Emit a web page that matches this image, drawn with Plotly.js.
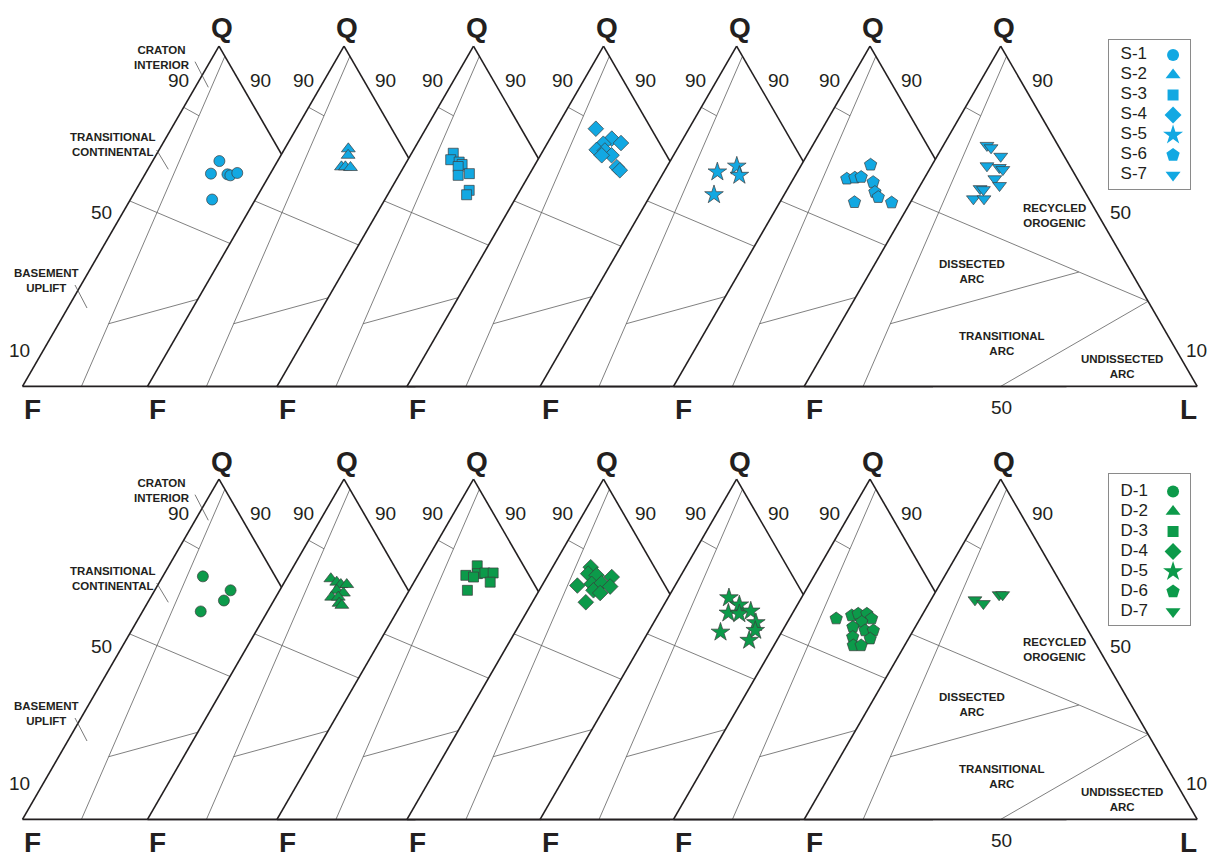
<!DOCTYPE html>
<html><head><meta charset="utf-8">
<script src="https://cdn.plot.ly/plotly-3.0.1.min.js"></script>
<style>html,body{margin:0;padding:0;background:#fff}</style>
</head><body><div id="chart" style="width:1214px;height:861px"></div>
<script>
// ---------------- DATA (Q, F, L in %) ----------------
const seriesTop = ['S-1','S-2','S-3','S-4','S-5','S-6','S-7'];
const seriesBottom = ['D-1','D-2','D-3','D-4','D-5','D-6','D-7'];
const symbols = ['circle','triangle-up','square','diamond','star','pentagon','triangle-down'];

const S1_Q = [66.2, 62.5, 62.3, 62.0, 62.7, 54.9];
const S1_F = [16.8, 20.8, 16.7, 16.1, 14.0, 24.3];
const S1_L = [17.0, 16.7, 21.0, 21.9, 23.3, 20.8];

const S2_Q = [69.8, 67.9, 64.5, 64.5, 64.3];
const S2_F = [14.0, 15.0, 18.4, 17.4, 16.2];
const S2_L = [16.2, 17.1, 17.1, 18.1, 19.5];

const S3_Q = [68.5, 66.6, 65.9, 65.2, 64.6, 62.5, 62.0, 57.6, 56.3];
const S3_F = [20.9, 22.5, 20.7, 20.3, 21.6, 19.8, 22.9, 22.3, 23.6];
const S3_L = [10.6, 10.9, 13.4, 14.5, 13.8, 17.7, 15.1, 20.1, 20.1];

const S4_Q = [75.7, 72.8, 71.5, 71.3, 69.5, 69.3, 67.9, 67.9, 64.4, 63.5];
const S4_F = [14.1, 11.5, 9.8, 14.4, 17.0, 15.0, 14.0, 16.5, 14.4, 14.1];
const S4_L = [10.2, 15.7, 18.7, 14.3, 13.5, 15.7, 18.1, 15.6, 21.2, 22.4];

const S5_Q = [64.7, 63.0, 62.0, 56.3];
const S5_F = [17.6, 23.4, 18.3, 27.6];
const S5_L = [17.7, 13.6, 19.7, 16.1];

const S6_Q = [65.1, 61.0, 61.3, 61.5, 60.0, 57.1, 55.6, 54.1, 54.0];
const S6_F = [17.3, 25.4, 23.2, 21.5, 19.2, 20.2, 20.1, 26.9, 17.5];
const S6_L = [17.6, 13.6, 15.5, 17.0, 20.8, 22.7, 24.3, 19.0, 28.5];

const S7_Q = [70.8, 70.1, 67.6, 64.8, 64.3, 63.7, 61.0, 59.0, 58.1, 57.8, 55.1, 55.1];
const S7_F = [18.1, 17.4, 16.2, 21.1, 18.2, 17.6, 21.0, 20.8, 26.2, 25.5, 29.4, 26.7];
const S7_L = [11.1, 12.5, 16.2, 14.1, 17.5, 18.7, 18.0, 20.2, 15.7, 16.7, 15.5, 18.2];

const D1_Q = [71.4, 67.3, 64.3, 61.1];
const D1_F = [18.4, 13.4, 16.6, 24.1];
const D1_L = [10.2, 19.3, 19.1, 14.8];

const D2_Q = [70.7, 69.7, 69.0, 69.0, 67.3, 66.5, 65.3, 65.3, 63.5, 62.9];
const D2_F = [18.0, 17.0, 16.3, 14.8, 18.2, 16.9, 20.5, 18.8, 19.5, 19.1];
const D2_L = [11.3, 13.3, 14.7, 16.2, 14.5, 16.6, 14.2, 15.9, 17.0, 18.0];

const D3_Q = [71.7, 74.5, 72.2, 72.4, 72.4, 71.2, 69.7, 67.3];
const D3_F = [16.1, 11.8, 12.9, 10.9, 8.8, 14.4, 10.9, 17.9];
const D3_L = [12.2, 13.7, 14.9, 16.7, 18.8, 14.4, 19.4, 14.8];

const D4_Q = [74.1, 72.2, 71.7, 71.2, 68.7, 69.2, 69.4, 68.4, 67.3, 66.5, 63.8];
const D4_F = [16.2, 17.8, 15.9, 12.3, 22.3, 18.4, 15.8, 14.1, 18.9, 17.6, 22.6];
const D4_L = [9.7, 10.0, 12.4, 16.5, 9.0, 12.4, 14.8, 17.5, 13.8, 15.9, 13.6];

const D5_Q = [65.1, 63.0, 60.6, 60.4, 61.2, 57.8, 55.5, 55.0, 52.6];
const D5_F = [19.4, 17.8, 21.8, 19.1, 15.8, 16.2, 17.5, 26.6, 20.5];
const D5_L = [15.5, 19.2, 17.6, 20.5, 23.0, 26.0, 27.0, 18.4, 26.9];

const D6_Q = [59.0, 59.9, 60.4, 60.4, 59.0, 58.0, 56.5, 55.5, 55.5, 53.6, 53.1, 51.1, 51.1];
const D6_F = [29.1, 24.7, 22.8, 20.6, 20.1, 23.1, 26.1, 23.5, 21.4, 27.6, 23.4, 28.7, 26.7];
const D6_L = [11.9, 15.4, 16.8, 19.0, 20.9, 18.9, 17.4, 21.0, 23.1, 18.8, 23.5, 20.2, 22.2];

const D7_Q = [64.5, 63.4, 66.0, 66.0];
const D7_F = [24.3, 22.7, 17.4, 16.5];
const D7_L = [11.2, 13.9, 16.6, 17.5];

// Dickinson QFL field boundaries (Q, F, L)
const lineA_Q = [97, 0],      lineA_F = [0, 85],       lineA_L = [3, 15];
const lineB_Q = [82, 79.5],   lineB_F = [18, 15.34],   lineB_L = [0, 5.16];
const lineC_Q = [54.5, 25],   lineC_F = [45.5, 0],     lineC_L = [0, 75];
const lineD_Q = [18.4, 33.6], lineD_F = [68.9, 13.3],  lineD_L = [12.7, 53.1];
const lineE_Q = [0, 25],      lineE_F = [50, 0],       lineE_L = [50, 75];

// ---------------- LAYOUT GEOMETRY ----------------
const W = 1214, H = 861;
const TRI_W = 393, TRI_H = 340.4;
const apexX = [[219, 344, 473.5, 603.5, 736.6, 870, 1000.7],
               [219, 344, 473.5, 603.5, 736.6, 870, 1000.7]];
const apexY = [46, 479];
const FONT = 'Liberation Sans, Arial, Helvetica, sans-serif';
const COLORS = ['#12a8e2', '#0c9a4a'];
const MSIZE = [11, 12, 10, 12, 14, 13, 12];

const dataTop = [[S1_Q,S1_F,S1_L],[S2_Q,S2_F,S2_L],[S3_Q,S3_F,S3_L],[S4_Q,S4_F,S4_L],[S5_Q,S5_F,S5_L],[S6_Q,S6_F,S6_L],[S7_Q,S7_F,S7_L]];
const dataBottom = [[D1_Q,D1_F,D1_L],[D2_Q,D2_F,D2_L],[D3_Q,D3_F,D3_L],[D4_Q,D4_F,D4_L],[D5_Q,D5_F,D5_L],[D6_Q,D6_F,D6_L],[D7_Q,D7_F,D7_L]];
const fieldLines = [[lineA_Q,lineA_F,lineA_L],[lineB_Q,lineB_F,lineB_L],[lineC_Q,lineC_F,lineC_L],[lineD_Q,lineD_F,lineD_L],[lineE_Q,lineE_F,lineE_L]];

const px = x => x / W;
const py = y => 1 - y / H;

const layout = {
  width: W, height: H, margin: {l:0, r:0, t:0, b:0},
  paper_bgcolor: '#fff', plot_bgcolor: '#fff', showlegend: false,
  annotations: [], shapes: []
};
const traces = [];
const axisStyle = () => ({showline:true, linecolor:'#231f20', linewidth:1.6, showgrid:false,
  ticks:'', showticklabels:false, title:{text:''}});

function ann(text, x, y, size, bold, extra) {
  layout.annotations.push(Object.assign({
    text: bold ? '<b>' + text + '</b>' : text,
    x: px(x), y: py(y), xref:'paper', yref:'paper', showarrow:false,
    xanchor:'center', yanchor:'middle',
    font:{family:FONT, size:size, color:'#231f20'}
  }, extra || {}));
}

let sub = 0;
[dataTop, dataBottom].forEach((rowData, r) => {
  const off = apexY[r] - apexY[0];
  rowData.forEach((d, k) => {
    sub += 1;
    const id = sub === 1 ? 'ternary' : 'ternary' + sub;
    const ax = apexX[r][k], ay = apexY[r];
    layout[id] = {
      domain: {x:[px(ax - TRI_W/2), px(ax + TRI_W/2)], y:[py(ay + TRI_H), py(ay)]},
      sum: 100, bgcolor: '#fff',
      aaxis: axisStyle(), baxis: axisStyle(), caxis: axisStyle()
    };
    fieldLines.forEach(fl => traces.push({
      type:'scatterternary', subplot:id, mode:'lines', a:fl[0], b:fl[1], c:fl[2],
      line:{color:'#5f5f5f', width:0.8}, hoverinfo:'skip'
    }));
    traces.push({
      type:'scatterternary', subplot:id, mode:'markers', a:d[0], b:d[1], c:d[2],
      name:(r === 0 ? seriesTop : seriesBottom)[k],
      marker:{symbol:symbols[k], size:MSIZE[k], color:COLORS[r], opacity:1, line:{color:'#3c3c3c', width:0.7}}
    });
    // vertex letters and 90 labels
    ann('Q', ax + 3, 28 + off, 28, true);
    ann('F', ax - TRI_W/2 + 10, 409 + off, 28, true);
    if (k < 6) ann('90', ax - 41, 80 + off, 19, false);
    ann('90', ax + 41.7, 80 + off, 19, false);
  });
  const a0 = apexX[r][0], a6 = apexX[r][6];
  ann('L', a6 + TRI_W/2 - 9, 409 + off, 28, true);
  ann('50', a0 - 117.3, 213 + off, 19, false);
  ann('10', a0 - 199.7, 350 + off, 19, false);
  ann('50', a6 + 119.3, 213 + off, 19, false);
  ann('10', a6 + 196, 350 + off, 19, false);
  ann('50', a6 + 0.5, 407 + off, 19, false);
  // field names
  const fs = 11.5;
  ann('CRATON<br>INTERIOR', a0 - 56.7, 57 + off, fs, true);
  ann('TRANSITIONAL<br>CONTINENTAL', a0 - 106.3, 145 + off, fs, true);
  ann('BASEMENT<br>UPLIFT', a0 - 172.3, 280 + off, fs, true);
  ann('RECYCLED<br>OROGENIC', a6 + 53.6, 216 + off, fs, true);
  ann('DISSECTED<br>ARC', a6 - 29, 271 + off, fs, true);
  ann('TRANSITIONAL<br>ARC', a6 + 1, 343 + off, fs, true);
  ann('UNDISSECTED<br>ARC', a6 + 121.6, 366 + off, fs, true);
  // leader lines
  [[195,61.7,208.3,87.3],[156.7,150,168.3,169.3],[75,285,87,308]].forEach(s => {
    layout.shapes.push({type:'line', xref:'paper', yref:'paper',
      x0:px(s[0] - 219 + a0), y0:py(s[1] + off), x1:px(s[2] - 219 + a0), y1:py(s[3] + off),
      line:{color:'#555', width:0.8}});
  });
});

// ---------------- LEGENDS (cartesian helper axes) ----------------
const legendBox = [[1109.3, 40, 1190, 189.3], [1109.3, 474, 1190, 625]];
const legendFirstY = [55, 491.5];
const legendStep = 20;
[seriesTop, seriesBottom].forEach((names, r) => {
  const b = legendBox[r];
  const xa = r === 0 ? 'xaxis' : 'xaxis2', ya = r === 0 ? 'yaxis' : 'yaxis2';
  const i0 = (b[1] - legendFirstY[r]) / legendStep, i1 = (b[3] - legendFirstY[r]) / legendStep;
  const axBase = {showgrid:false, zeroline:false, showticklabels:false, ticks:'',
    showline:true, mirror:true, linecolor:'#8a8a8a', linewidth:1, fixedrange:true};
  layout[xa] = Object.assign({}, axBase, {domain:[px(b[0]), px(b[2])], range:[0, 1],
    anchor: r === 0 ? 'y' : 'y2'});
  layout[ya] = Object.assign({}, axBase, {domain:[py(b[3]), py(b[1])], range:[i1, i0],
    anchor: r === 0 ? 'x' : 'x2'});
  const idx = names.map((n, i) => i);
  traces.push({type:'scatter', mode:'text', xaxis: r === 0 ? 'x' : 'x2', yaxis: r === 0 ? 'y' : 'y2',
    x: names.map(() => 0.14), y: idx, text: names, textposition:'middle right',
    textfont:{family:FONT, size:17, color:'#231f20'}, hoverinfo:'skip', cliponaxis:false});
  traces.push({type:'scatter', mode:'markers', xaxis: r === 0 ? 'x' : 'x2', yaxis: r === 0 ? 'y' : 'y2',
    x: names.map(() => 0.79), y: idx,
    marker:{symbol:symbols, size:MSIZE.map(s => s + 1), color:COLORS[r], opacity:1, line:{width:0}},
    hoverinfo:'skip', cliponaxis:false});
});

Plotly.newPlot('chart', traces, layout, {staticPlot:true, displayModeBar:false});
</script>
</body></html>
